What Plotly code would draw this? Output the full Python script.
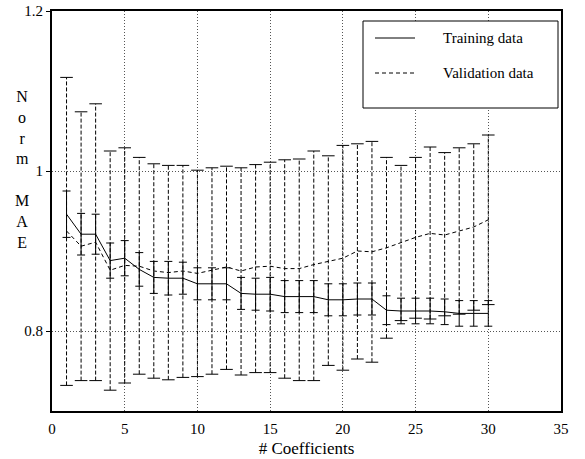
import plotly.graph_objects as go

# ---------------- data ----------------
n_coeff = list(range(1, 31))

train_mae = [0.946, 0.921, 0.921, 0.888, 0.891, 0.877, 0.867, 0.866, 0.866, 0.859,
             0.859, 0.859, 0.847, 0.846, 0.846, 0.843, 0.843, 0.843, 0.839, 0.839,
             0.840, 0.840, 0.826, 0.825, 0.825, 0.825, 0.824, 0.822, 0.822, 0.822]
train_err = [0.029, 0.026, 0.025, 0.022, 0.022, 0.021, 0.020, 0.021, 0.020, 0.020,
             0.020, 0.020, 0.020, 0.020, 0.021, 0.020, 0.020, 0.020, 0.020, 0.020,
             0.020, 0.020, 0.018, 0.016, 0.016, 0.016, 0.016, 0.016, 0.016, 0.016]

val_mae = [0.925, 0.906, 0.911, 0.876, 0.882, 0.881, 0.875, 0.873, 0.875, 0.872,
           0.876, 0.880, 0.875, 0.880, 0.881, 0.878, 0.878, 0.883, 0.887, 0.891,
           0.900, 0.899, 0.904, 0.911, 0.917, 0.922, 0.920, 0.925, 0.930, 0.939]
val_upper = [1.117, 1.074, 1.084, 1.025, 1.029, 1.017, 1.009, 1.007, 1.007, 1.001,
             1.004, 1.006, 1.004, 1.008, 1.011, 1.014, 1.015, 1.025, 1.019, 1.032,
             1.034, 1.037, 1.017, 1.007, 1.017, 1.030, 1.023, 1.029, 1.034, 1.045]
val_lower = [0.732, 0.738, 0.738, 0.726, 0.735, 0.746, 0.741, 0.739, 0.742, 0.743,
             0.746, 0.752, 0.745, 0.748, 0.748, 0.741, 0.738, 0.738, 0.757, 0.751,
             0.765, 0.761, 0.791, 0.813, 0.816, 0.815, 0.819, 0.821, 0.826, 0.833]

x_ticks = [0, 5, 10, 15, 20, 25, 30, 35]
y_ticks = [0.8, 1.0, 1.2]
legend_names = ["Training data", "Validation data"]

FONT = "Liberation Serif"

# ---------------- figure ----------------
fig = go.Figure()

# validation error bars (dashed vertical segments)
bx, by = [], []
for xi, lo, hi in zip(n_coeff, val_lower, val_upper):
    bx += [xi, xi, None]
    by += [lo, hi, None]
fig.add_trace(go.Scatter(x=bx, y=by, mode="lines",
                         line=dict(color="black", width=1, dash="4px,2px"),
                         showlegend=False, hoverinfo="skip"))
# validation caps
fig.add_trace(go.Scatter(x=n_coeff + n_coeff, y=val_upper + val_lower, mode="markers",
                         marker=dict(symbol="line-ew", size=9,
                                     line=dict(color="black", width=1)),
                         showlegend=False, hoverinfo="skip"))
# validation mean
fig.add_trace(go.Scatter(x=n_coeff, y=val_mae, mode="lines",
                         line=dict(color="black", width=1, dash="4px,3px"),
                         name=legend_names[1], showlegend=False))
# training mean with error bars
fig.add_trace(go.Scatter(x=n_coeff, y=train_mae, mode="lines",
                         line=dict(color="black", width=1),
                         error_y=dict(type="data", array=train_err, visible=True,
                                      color="black", thickness=1, width=4),
                         name=legend_names[0], showlegend=False))

# plot area in pixels
W, H = 585, 459
L, R, T, B = 52, 24, 11, 48
pw, ph = W - L - R, H - T - B


def px_x(p):
    return (p - L) / pw


def px_y(p):
    return (H - B - p) / ph


# manual legend
shapes = [
    dict(type="rect", xref="paper", yref="paper",
         x0=px_x(363), x1=px_x(558), y0=px_y(108), y1=px_y(21),
         line=dict(color="black", width=1), fillcolor="white", layer="above"),
    dict(type="line", xref="paper", yref="paper",
         x0=px_x(375), x1=px_x(415), y0=px_y(38), y1=px_y(38),
         line=dict(color="black", width=1), layer="above"),
    dict(type="line", xref="paper", yref="paper",
         x0=px_x(375), x1=px_x(415), y0=px_y(73), y1=px_y(73),
         line=dict(color="black", width=1, dash="4px,3px"), layer="above"),
]
annotations = [
    dict(text=legend_names[0], xref="paper", yref="paper", x=px_x(441), y=px_y(38),
         xanchor="left", yanchor="middle", showarrow=False,
         font=dict(family=FONT, size=15, color="black")),
    dict(text=legend_names[1], xref="paper", yref="paper", x=px_x(441), y=px_y(73),
         xanchor="left", yanchor="middle", showarrow=False,
         font=dict(family=FONT, size=15, color="black")),
    dict(text="N<br>o<br>r<br>m<br>\u00a0<br>M<br>A<br>E", xref="paper", yref="paper",
         x=px_x(22), y=px_y(169), xanchor="center", yanchor="middle",
         showarrow=False, align="center",
         font=dict(family=FONT, size=16, color="black")),
]

fig.update_layout(
    width=W, height=H,
    margin=dict(l=L, r=R, t=T, b=B, autoexpand=False),
    paper_bgcolor="white", plot_bgcolor="white",
    font=dict(family=FONT, size=15, color="black"),
    shapes=shapes, annotations=annotations,
    showlegend=False,
)
fig.update_xaxes(range=[0, 35], tickvals=x_ticks, showgrid=True, automargin=False,
                 gridcolor="#555", griddash="1px,2px", gridwidth=1,
                 showline=True, linecolor="black", linewidth=2, mirror=True,
                 zeroline=False, ticks="", ticklabelstandoff=3,
                 tickfont=dict(family=FONT, size=15, color="black"),
                 title=dict(text="# Coefficients", standoff=6,
                            font=dict(family=FONT, size=17, color="black")))
fig.update_yaxes(range=[0.7, 1.2], tickvals=y_ticks, showgrid=True, automargin=False,
                 gridcolor="#555", griddash="1px,2px", gridwidth=1,
                 showline=True, linecolor="black", linewidth=2, mirror=True,
                 zeroline=False, ticks="outside", ticklen=4, tickcolor="black",
                 tickfont=dict(family=FONT, size=15, color="black"))

fig.write_html("out.html")
